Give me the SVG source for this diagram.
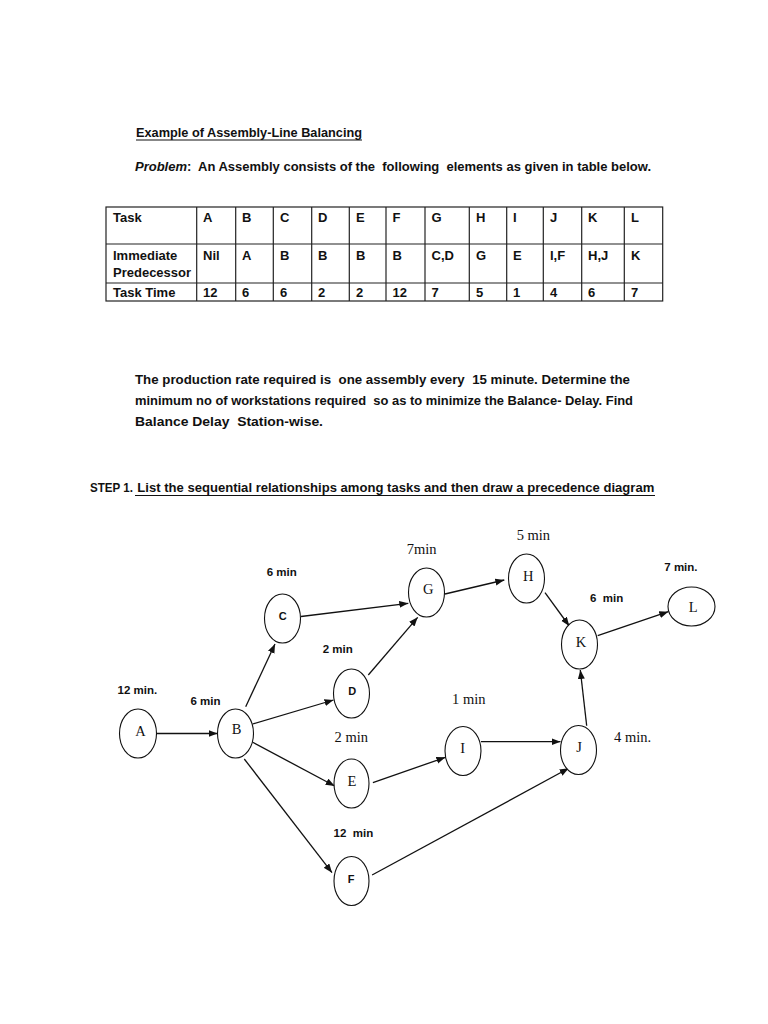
<svg xmlns="http://www.w3.org/2000/svg" width="768" height="1024" viewBox="0 0 768 1024">
<style>
.b{font-family:"Liberation Sans",Arial,sans-serif;font-weight:bold;font-size:13.5px;fill:#111}
.t{font-family:"Liberation Sans",Arial,sans-serif;font-weight:bold;font-size:13px;fill:#111}
.lb{font-family:"Liberation Sans",Arial,sans-serif;font-weight:bold;font-size:11.5px;fill:#111}
.ls{font-family:"Liberation Serif",serif;font-size:14.5px;fill:#111}
.ns{font-family:"Liberation Serif",serif;font-size:14.5px;fill:#111;text-anchor:middle}
.nb{font-family:"Liberation Sans",Arial,sans-serif;font-weight:bold;font-size:11px;fill:#111;text-anchor:middle}
.tl{stroke:#222;stroke-width:1.2;fill:none}
.ul{stroke:#111;stroke-width:1.2}
.node ellipse{fill:#fff;stroke:#111;stroke-width:1.1}
.edges line{stroke:#111;stroke-width:1.3;marker-end:url(#ah)}
</style>
<defs>
<marker id="ah" markerUnits="userSpaceOnUse" markerWidth="10" markerHeight="8" refX="9" refY="3.5" orient="auto">
<path d="M0,0 L9,3.5 L0,7 z" fill="#111"/>
</marker>
</defs>
<rect width="768" height="1024" fill="#fff"/>

<!-- Heading -->
<text class="b" x="136" y="137" textLength="226" lengthAdjust="spacingAndGlyphs">Example of Assembly-Line Balancing</text>
<line class="ul" x1="136" y1="140" x2="362" y2="140"/>
<text class="b" x="135" y="171" textLength="516" lengthAdjust="spacingAndGlyphs" xml:space="preserve"><tspan font-style="italic">Problem</tspan>:  An Assembly consists of the  following  elements as given in table below.</text>

<!-- Table -->
<g id="table">
<rect class="tl" x="106" y="207" width="556.7" height="94"/>
<line class="tl" x1="106" y1="244" x2="662.7" y2="244"/>
<line class="tl" x1="106" y1="283" x2="662.7" y2="283"/>
<g class="tl">
<line x1="196.7" y1="207" x2="196.7" y2="301"/>
<line x1="235.7" y1="207" x2="235.7" y2="301"/>
<line x1="273.3" y1="207" x2="273.3" y2="301"/>
<line x1="311.7" y1="207" x2="311.7" y2="301"/>
<line x1="349.3" y1="207" x2="349.3" y2="301"/>
<line x1="386" y1="207" x2="386" y2="301"/>
<line x1="425" y1="207" x2="425" y2="301"/>
<line x1="469.3" y1="207" x2="469.3" y2="301"/>
<line x1="506.7" y1="207" x2="506.7" y2="301"/>
<line x1="543.3" y1="207" x2="543.3" y2="301"/>
<line x1="581.7" y1="207" x2="581.7" y2="301"/>
<line x1="624.3" y1="207" x2="624.3" y2="301"/>
</g>
<g class="t">
<text x="113" y="222">Task</text>
<text x="203" y="222">A</text>
<text x="242" y="222">B</text>
<text x="280" y="222">C</text>
<text x="318" y="222">D</text>
<text x="356" y="222">E</text>
<text x="392.5" y="222">F</text>
<text x="431.5" y="222">G</text>
<text x="476" y="222">H</text>
<text x="513" y="222">I</text>
<text x="550" y="222">J</text>
<text x="588" y="222">K</text>
<text x="631" y="222">L</text>

<text x="113" y="260">Immediate</text>
<text x="113" y="277">Predecessor</text>
<text x="203" y="260">Nil</text>
<text x="242" y="260">A</text>
<text x="280" y="260">B</text>
<text x="318" y="260">B</text>
<text x="356" y="260">B</text>
<text x="392.5" y="260">B</text>
<text x="431.5" y="260">C,D</text>
<text x="476" y="260">G</text>
<text x="513" y="260">E</text>
<text x="550" y="260">I,F</text>
<text x="588" y="260">H,J</text>
<text x="631" y="260">K</text>

<text x="113" y="297">Task Time</text>
<text x="203" y="297">12</text>
<text x="242" y="297">6</text>
<text x="280" y="297">6</text>
<text x="318" y="297">2</text>
<text x="356" y="297">2</text>
<text x="392.5" y="297">12</text>
<text x="431.5" y="297">7</text>
<text x="476" y="297">5</text>
<text x="513" y="297">1</text>
<text x="550" y="297">4</text>
<text x="588" y="297">6</text>
<text x="631" y="297">7</text>
</g>
</g>

<!-- Paragraph -->
<text class="b" x="135" y="384" textLength="495" lengthAdjust="spacingAndGlyphs" xml:space="preserve">The production rate required is  one assembly every  15 minute. Determine the</text>
<text class="b" x="135" y="405" textLength="498" lengthAdjust="spacingAndGlyphs" xml:space="preserve">minimum no of workstations required  so as to minimize the Balance- Delay. Find</text>
<text class="b" x="135" y="426" textLength="188" lengthAdjust="spacingAndGlyphs" xml:space="preserve">Balance Delay  Station-wise.</text>

<text class="b" x="90" y="492" textLength="43" lengthAdjust="spacingAndGlyphs">STEP 1.</text>
<text class="b" x="137.3" y="492" textLength="517" lengthAdjust="spacingAndGlyphs">List the sequential relationships among tasks and then draw a precedence diagram</text>
<line class="ul" x1="135" y1="495.5" x2="655" y2="495.5"/>

<!-- Connectors -->
<g class="edges" id="edges">
<line x1="156.5" y1="733.5" x2="217.5" y2="733.5"/>
<line x1="245.7" y1="706.7" x2="275" y2="644"/>
<line x1="301" y1="616.5" x2="408.3" y2="603.3"/>
<line x1="252.7" y1="724" x2="333.5" y2="700"/>
<line x1="368.3" y1="675" x2="417.7" y2="617.3"/>
<line x1="252.7" y1="742.3" x2="334.7" y2="786"/>
<line x1="244.3" y1="759" x2="332" y2="872.7"/>
<line x1="372.9" y1="782.7" x2="445.4" y2="757.3"/>
<line x1="481" y1="741.7" x2="560.5" y2="741.7"/>
<line x1="372.1" y1="875" x2="568.7" y2="768.3"/>
<line x1="586.7" y1="725.7" x2="580.3" y2="670"/>
<line x1="445" y1="594" x2="504.3" y2="580"/>
<line x1="545" y1="592.7" x2="569.3" y2="626"/>
<line x1="597.7" y1="635.7" x2="668.3" y2="611.7"/>
</g>

<!-- Nodes -->
<g class="node" id="node-A"><ellipse cx="138" cy="733.5" rx="18.5" ry="24.5"/><text class="ns" x="140.5" y="735.5">A</text></g>
<g class="node" id="node-B"><ellipse cx="235.5" cy="733.5" rx="18" ry="24.5"/><text class="ns" x="236.5" y="734">B</text></g>
<g class="node" id="node-C"><ellipse cx="282.5" cy="618.5" rx="18" ry="24.5"/><text class="nb" x="282.7" y="620">C</text></g>
<g class="node" id="node-D"><ellipse cx="351.5" cy="693.5" rx="18" ry="24.5"/><text class="nb" x="352.3" y="695">D</text></g>
<g class="node" id="node-E"><ellipse cx="351.5" cy="783.5" rx="17.5" ry="24.5"/><text class="ns" x="352" y="785.5">E</text></g>
<g class="node" id="node-F"><ellipse cx="351.5" cy="881" rx="17.5" ry="24.5"/><text class="nb" x="351" y="883">F</text></g>
<g class="node" id="node-G"><ellipse cx="426.5" cy="592.5" rx="18" ry="24.5"/><text class="ns" x="428.3" y="594">G</text></g>
<g class="node" id="node-H"><ellipse cx="526.5" cy="578.5" rx="18" ry="24.5"/><text class="ns" x="528.3" y="580.5">H</text></g>
<g class="node" id="node-I"><ellipse cx="463" cy="751" rx="18" ry="24.5"/><text class="ns" x="462.7" y="753">I</text></g>
<g class="node" id="node-J"><ellipse cx="578.5" cy="750" rx="18" ry="24.5"/><text class="ns" x="579" y="752">J</text></g>
<g class="node" id="node-K"><ellipse cx="579.5" cy="644.5" rx="18" ry="24.5"/><text class="ns" x="581" y="646.5">K</text></g>
<g class="node" id="node-L"><ellipse cx="691.5" cy="606.5" rx="23.5" ry="19.5"/><text class="ns" x="693.3" y="611.5">L</text></g>

<!-- Time labels -->
<g id="labels">
<text class="lb" x="117.5" y="693.5">12 min.</text>
<text class="lb" x="190.5" y="705">6 min</text>
<text class="lb" x="266.7" y="576">6 min</text>
<text class="lb" x="322.7" y="653.3">2 min</text>
<text class="lb" x="333.6" y="836.7" xml:space="preserve">12  min</text>
<text class="lb" x="664.3" y="570.7">7 min.</text>
<text class="lb" x="590" y="601.7" xml:space="preserve">6  min</text>
<text class="ls" x="406.7" y="554">7min</text>
<text class="ls" x="516.7" y="540">5 min</text>
<text class="ls" x="452" y="704">1 min</text>
<text class="ls" x="334.5" y="742">2 min</text>
<text class="ls" x="614" y="742">4 min.</text>
</g>
</svg>
